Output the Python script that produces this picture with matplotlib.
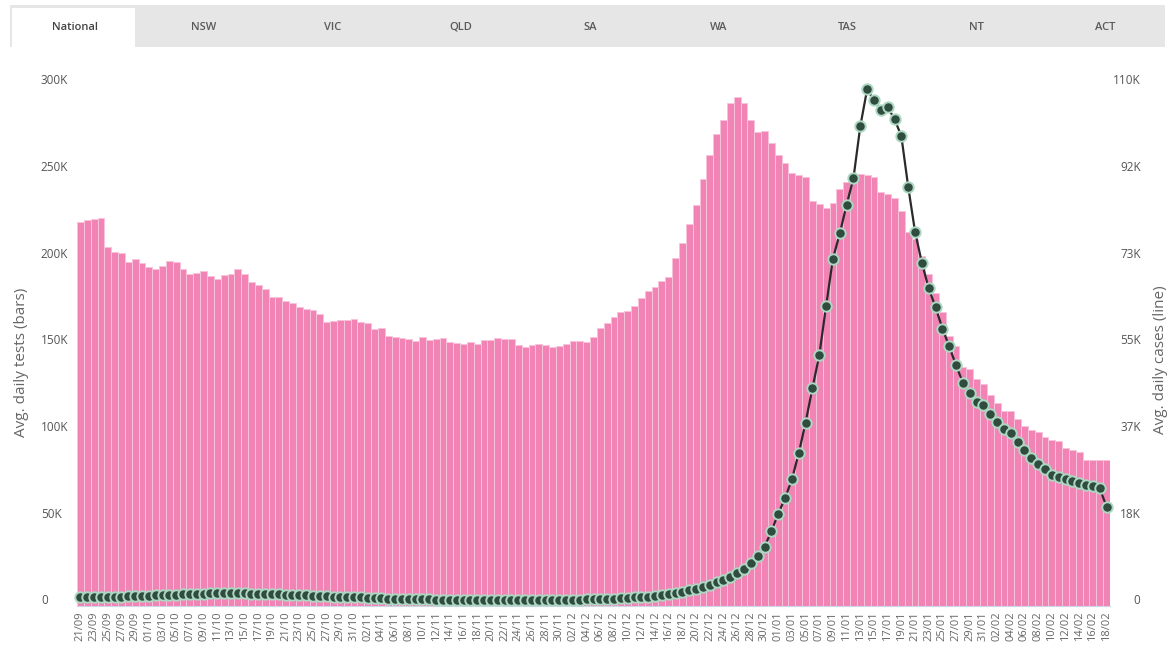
import numpy as np
import pandas as pd
import matplotlib
matplotlib.use('Agg')
import matplotlib.pyplot as plt
from matplotlib.patches import Rectangle
from matplotlib.transforms import ScaledTranslation

plt.rcParams['font.family'] = ['Open Sans', 'DejaVu Sans']

# one bar / point per day
dates = pd.date_range('2021-09-21', '2022-02-18', freq='D')
date_labels = list(dates.strftime('%d/%m'))

# average daily tests, thousands (bars, left axis)
tests_k = [
    221.8, 222.7, 223.1, 223.7, 206.9, 204.4, 203.5, 198.7, 200.0, 198.1,
    195.8, 194.3, 196.2, 199.3, 198.5, 194.3, 191.6, 192.4, 193.5, 190.1,
    188.7, 190.8, 191.6, 194.3, 191.6, 187.2, 185.2, 183.1, 178.5, 178.5,
    176.2, 174.6, 172.7, 171.2, 170.8, 168.5, 163.7, 164.4, 165.0, 165.0,
    165.5, 164.1, 163.0, 159.6, 160.2, 156.0, 155.4, 154.8, 153.9, 153.1,
    155.4, 153.5, 153.9, 154.4, 152.5, 151.9, 151.2, 152.5, 151.2, 153.5,
    153.5, 154.8, 154.1, 154.1, 150.6, 149.3, 150.6, 151.2, 150.6, 149.7,
    150.1, 151.2, 153.1, 153.1, 152.5, 155.4, 160.2, 163.5, 167.0, 169.8,
    170.4, 172.8, 177.6, 182.0, 184.2, 187.7, 189.7, 200.6, 209.6, 220.6,
    231.6, 246.5, 260.4, 272.4, 280.4, 290.3, 293.7, 290.3, 280.4, 273.4,
    273.8, 267.4, 260.4, 255.4, 249.9, 248.5, 247.5, 233.9, 231.9, 229.5,
    232.5, 240.5, 244.5, 247.5, 249.5, 248.5, 247.5, 238.6, 237.6, 235.5,
    227.6, 216.0, 211.6, 201.7, 191.7, 180.7, 169.8, 155.8, 149.8, 137.9,
    136.9, 130.9, 127.9, 121.9, 117.0, 112.3, 112.3, 107.6, 103.6, 101.6,
    100.4, 97.6, 96.0, 95.0, 91.0, 90.0, 89.0, 84.5, 84.5, 84.5, 84.5]

# average daily cases, thousands (line, right axis)
cases_k = [
    1.9, 1.9, 1.9, 1.95, 2.0, 2.0, 2.0, 2.05, 2.1, 2.1,
    2.2, 2.25, 2.3, 2.35, 2.4, 2.45, 2.5, 2.55, 2.6, 2.65,
    2.7, 2.7, 2.7, 2.7, 2.65, 2.6, 2.6, 2.55, 2.5, 2.45,
    2.4, 2.35, 2.3, 2.25, 2.2, 2.15, 2.1, 2.0, 1.95, 1.9,
    1.85, 1.8, 1.7, 1.65, 1.6, 1.55, 1.5, 1.5, 1.45, 1.45,
    1.4, 1.4, 1.35, 1.35, 1.3, 1.3, 1.3, 1.3, 1.25, 1.25,
    1.25, 1.25, 1.25, 1.25, 1.25, 1.25, 1.25, 1.25, 1.3, 1.3,
    1.3, 1.3, 1.35, 1.35, 1.4, 1.4, 1.45, 1.5, 1.55, 1.6,
    1.7, 1.8, 1.9, 2.0, 2.15, 2.3, 2.5, 2.7, 3.0, 3.3,
    3.6, 4.0, 4.5, 5.0, 5.6, 6.2, 7.0, 7.9, 9.0, 10.5,
    12.5, 15.8, 19.5, 22.8, 26.8, 32.3, 38.8, 46.1, 53.0, 63.5,
    73.5, 78.8, 84.9, 90.5, 101.5, 109.3, 107.0, 105.0, 105.5, 103.0,
    99.4, 88.7, 79.2, 72.6, 67.2, 63.2, 58.7, 54.9, 50.9, 47.2,
    45.0, 43.2, 42.5, 40.7, 38.9, 37.4, 36.5, 34.6, 33.0, 31.4,
    30.1, 29.0, 27.7, 27.3, 26.8, 26.4, 26.1, 25.7, 25.3, 25.0, 20.9]

tabs = ['National', 'NSW', 'VIC', 'QLD', 'SA', 'WA', 'TAS', 'NT', 'ACT']
left_ticks = [0, 50, 100, 150, 200, 250, 300]
left_labels = ['0', '50K', '100K', '150K', '200K', '250K', '300K']
right_labels = ['0', '18K', '37K', '55K', '73K', '92K', '110K']

W, H = 1174, 650
fig = plt.figure(figsize=(W / 100, H / 100), dpi=100)

# tab strip on top
fig.add_artist(Rectangle((10 / W, 1 - 47 / H), 1155 / W, 42 / H, transform=fig.transFigure,
                         facecolor='#e6e6e6', edgecolor='none'))
fig.add_artist(Rectangle((12 / W, 1 - 47 / H), 123 / W, 39 / H, transform=fig.transFigure,
                         facecolor='white', edgecolor='none'))
for name, tx in zip(tabs, np.linspace(75, 1105, len(tabs))):
    fig.text(tx / W, 1 - 27 / H, name, ha='center', va='center', fontsize=8,
             fontweight='semibold', color='#444' if name == 'National' else '#5a5a5a')

ax = fig.add_axes([77 / W, 44 / H, (1110 - 77) / W, 520 / H])
x = np.arange(len(dates))
ax.bar(x, np.array(tests_k) * 1000, width=1.0, color='#f183b5', edgecolor='#f9c3db',
       linewidth=0.7, zorder=2)
ax.set_xlim(-0.5, len(x) - 0.5)
ax.set_ylim(0, 300000)

ax2 = ax.twinx()
ax2.plot(x, np.array(cases_k) * 1000, color='#2a2a2a', lw=1.6, marker='o', ms=7.5,
         mfc='#2f4c3e', mec='#acd7c2', mew=1.4, zorder=3, clip_on=False)
ax2.set_ylim(0, 110000)

for a in (ax, ax2):
    for s in a.spines.values():
        s.set_visible(False)
ax.spines['bottom'].set_visible(True)
ax.spines['bottom'].set_color('#ccd6eb')

ax.set_xticks(x[::2])
ax.set_xticklabels(date_labels[::2], rotation=90, fontsize=8, color='#666')
ax.tick_params(axis='x', length=0, pad=4)

ax.set_yticks(np.array(left_ticks) * 1000)
ax.set_yticklabels(left_labels, fontsize=8.5, color='#555', ha='left')
ax.tick_params(axis='y', length=0, pad=26)

ax2.set_yticks(np.linspace(0, 110000, 7))
ax2.set_yticklabels(right_labels, fontsize=8.5, color='#555', ha='right')
ax2.tick_params(axis='y', length=0, pad=22)

# labels sit a little above their tick, as in the original
up = ScaledTranslation(0, 0.065, fig.dpi_scale_trans)
for lab in ax.get_yticklabels() + ax2.get_yticklabels():
    lab.set_transform(lab.get_transform() + up)

fig.text(22 / W, 1 - 362 / H, 'Avg. daily tests (bars)', rotation=90, ha='center',
         va='center', fontsize=11, color='#666')
fig.text(1160 / W, 1 - 360 / H, 'Avg. daily cases (line)', rotation=90, ha='center',
         va='center', fontsize=11, color='#666')

fig.savefig('out.png', dpi=100, facecolor='white')
